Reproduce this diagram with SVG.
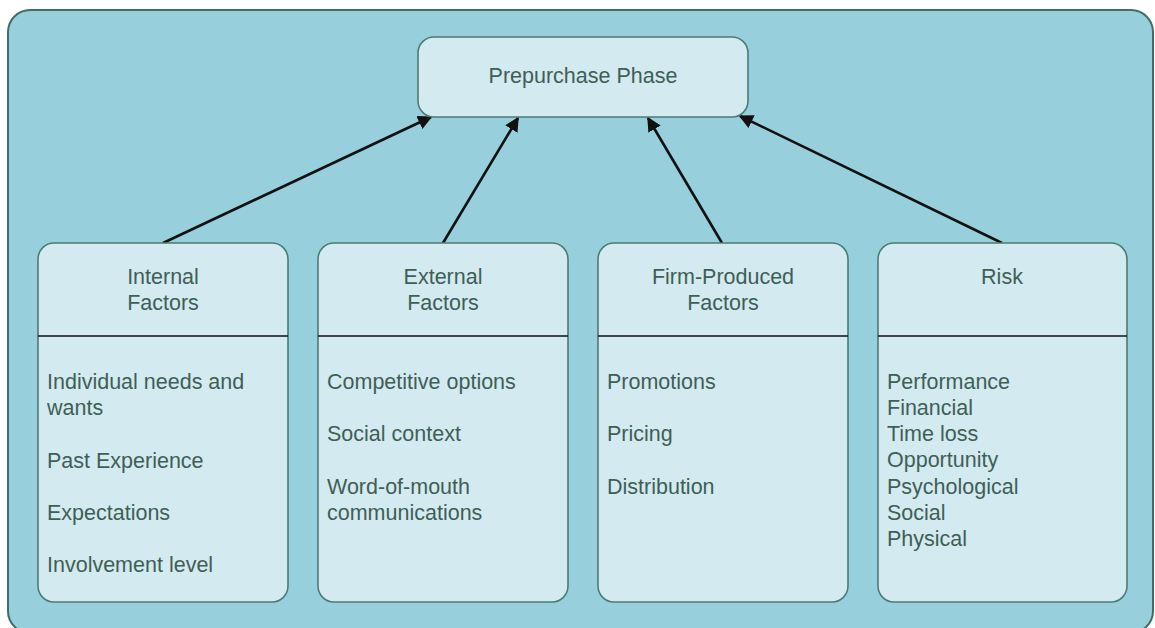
<svg xmlns="http://www.w3.org/2000/svg" width="1155" height="628" viewBox="0 0 1155 628">
<defs>
<style>
.bg{fill:#97cfdc;stroke:#3f6e69;stroke-width:2}
.box{fill:#d3eaf0;stroke:#4c7b73;stroke-width:1.6}
.div{stroke:#111;stroke-width:1.6}
.t{font-family:"Liberation Sans",Arial,sans-serif;font-size:21.5px;fill:#3f5f55}
.c{text-anchor:middle}
.conn{stroke:#111;stroke-width:2.6;fill:none;marker-end:url(#ah)}
</style>
<marker id="ah" viewBox="0 0 10 10" refX="9" refY="5" markerWidth="5.5" markerHeight="5.5" orient="auto" markerUnits="strokeWidth">
<path d="M0,0 L10,5 L0,10 z" fill="#111"/>
</marker>
</defs>
<rect class="bg" x="8" y="10" width="1145" height="623" rx="22"/>
<g id="connectors">
<line class="conn" x1="163" y1="243" x2="431" y2="117"/>
<line class="conn" x1="443" y1="243" x2="518" y2="118"/>
<line class="conn" x1="722" y1="243" x2="648" y2="118"/>
<line class="conn" x1="1002" y1="243" x2="740" y2="116"/>
</g>
<g id="prepurchase">
<rect class="box" x="418" y="37" width="330" height="80" rx="16"/>
<text class="t c" x="583" y="83">Prepurchase Phase</text>
</g>
<g id="internal">
<rect class="box" x="38" y="243" width="250" height="359" rx="16"/>
<line class="div" x1="38" y1="336" x2="288" y2="336"/>
<text class="t c" x="163" y="284">Internal</text>
<text class="t c" x="163" y="310">Factors</text>
<text class="t" x="47" y="389">Individual needs and</text>
<text class="t" x="47" y="415">wants</text>
<text class="t" x="47" y="468">Past Experience</text>
<text class="t" x="47" y="520">Expectations</text>
<text class="t" x="47" y="572">Involvement level</text>
</g>
<g id="external">
<rect class="box" x="318" y="243" width="250" height="359" rx="16"/>
<line class="div" x1="318" y1="336" x2="568" y2="336"/>
<text class="t c" x="443" y="284">External</text>
<text class="t c" x="443" y="310">Factors</text>
<text class="t" x="327" y="389">Competitive options</text>
<text class="t" x="327" y="441">Social context</text>
<text class="t" x="327" y="494">Word-of-mouth</text>
<text class="t" x="327" y="520">communications</text>
</g>
<g id="firm">
<rect class="box" x="598" y="243" width="250" height="359" rx="16"/>
<line class="div" x1="598" y1="336" x2="848" y2="336"/>
<text class="t c" x="723" y="284">Firm-Produced</text>
<text class="t c" x="723" y="310">Factors</text>
<text class="t" x="607" y="389">Promotions</text>
<text class="t" x="607" y="441">Pricing</text>
<text class="t" x="607" y="494">Distribution</text>
</g>
<g id="risk">
<rect class="box" x="878" y="243" width="249" height="359" rx="16"/>
<line class="div" x1="878" y1="336" x2="1127" y2="336"/>
<text class="t c" x="1002" y="284">Risk</text>
<text class="t" x="887" y="389">Performance</text>
<text class="t" x="887" y="415">Financial</text>
<text class="t" x="887" y="441">Time loss</text>
<text class="t" x="887" y="467">Opportunity</text>
<text class="t" x="887" y="494">Psychological</text>
<text class="t" x="887" y="520">Social</text>
<text class="t" x="887" y="546">Physical</text>
</g>
</svg>
